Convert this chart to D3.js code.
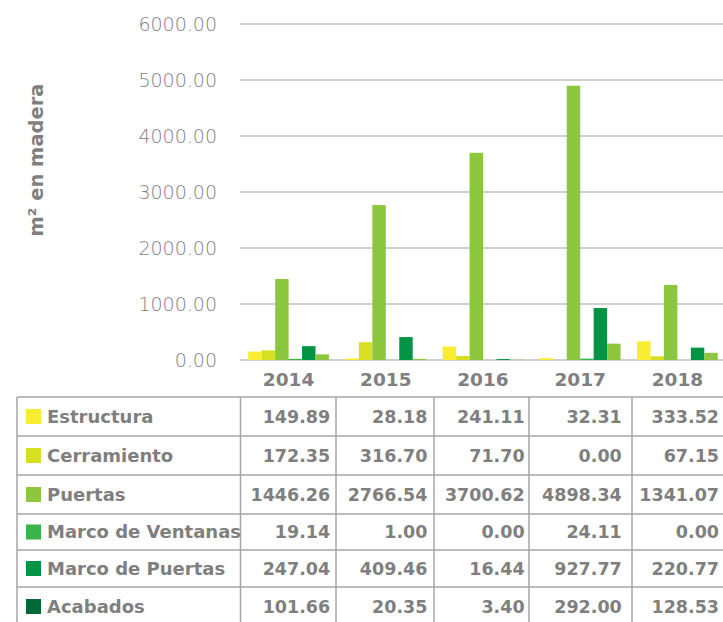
<!DOCTYPE html>
<html>
<head>
<meta charset="utf-8">
<script src="https://cdn.jsdelivr.net/npm/d3@7"></script>
<style>
	body { margin: 0; background: #FFFFFF; }
	#vis_container { width: 723px; height: 622px; }
	text { font-family: "DejaVu Sans", sans-serif; fill: #7F7F7F; }
</style>
</head>
<body>
<div id="vis_container"></div>
<script>
// data
var years = ["2014", "2015", "2016", "2017", "2018"];
var seriesNames = ["Estructura", "Cerramiento", "Puertas", "Marco de Ventanas", "Marco de Puertas", "Acabados"];
var estructura = [149.89, 28.18, 241.11, 32.31, 333.52];
var cerramiento = [172.35, 316.70, 71.70, 0.00, 67.15];
var puertas = [1446.26, 2766.54, 3700.62, 4898.34, 1341.07];
var marcoVentanas = [19.14, 1.00, 0.00, 24.11, 0.00];
var marcoPuertas = [247.04, 409.46, 16.44, 927.77, 220.77];
var acabados = [101.66, 20.35, 3.40, 292.00, 128.53];
var yTicks = [0, 1000, 2000, 3000, 4000, 5000, 6000];

// legend keys in the table and the bar fills (the last series is painted light green in the original)
var legendColors = ["#F9ED32", "#D7DF23", "#8DC63F", "#39B54A", "#009444", "#006838"];
var barColors = ["#F9ED32", "#D7DF23", "#8DC63F", "#39B54A", "#009444", "#8DC63F"];

var chart = {};
chart.width = 723;
chart.height = 622;
chart.values = [estructura, cerramiento, puertas, marcoVentanas, marcoPuertas, acabados];

chart.svg = d3.select("#vis_container").append("svg")
	.attr("width", chart.width)
	.attr("height", chart.height);

chart.xScale = d3.scaleBand()
	.domain(years)
	.range([240, 726])
	.paddingInner(0.17)
	.paddingOuter(0.085);

chart.inner = d3.scaleBand()
	.domain(d3.range(seriesNames.length))
	.range([0, chart.xScale.bandwidth()]);

chart.yScale = d3.scaleLinear()
	.domain([0, 6000])
	.range([360, 24]);

// gridlines
chart.svg.append("g").selectAll("line")
	.data(yTicks)
	.enter().append("line")
	.attr("x1", 240)
	.attr("x2", 723)
	.attr("y1", function(d) { return chart.yScale(d); })
	.attr("y2", function(d) { return chart.yScale(d); })
	.attr("stroke", "#BFBFBF")
	.attr("stroke-width", 1.6);

// y axis labels
chart.yAxis = chart.svg.append("g")
	.attr("transform", "translate(240,0)")
	.call(d3.axisLeft(chart.yScale).tickValues(yTicks).tickSize(0).tickPadding(23).tickFormat(d3.format(".2f")));
chart.yAxis.select(".domain").remove();
chart.yAxis.selectAll("text")
	.style("font-size", "19px")
	.style("font-family", "'DejaVu Sans', sans-serif")
	.style("font-weight", "200")
	.attr("fill", "#8C8C8C");

chart.svg.append("text")
	.attr("transform", "translate(43,160) rotate(-90)")
	.attr("text-anchor", "middle")
	.style("font-size", "19.5px")
	.style("font-weight", "bold")
	.text("m² en madera");

// bars
chart.values.forEach(function(vals, s) {
	chart.svg.append("g").selectAll("rect")
		.data(vals)
		.enter().append("rect")
		.attr("x", function(d, i) { return chart.xScale(years[i]) + chart.inner(s); })
		.attr("width", chart.inner.bandwidth())
		.attr("y", function(d) { return chart.yScale(d); })
		.attr("height", function(d) { return chart.yScale(0) - chart.yScale(d); })
		.attr("fill", barColors[s]);
});

// year labels
chart.svg.append("g").selectAll("text")
	.data(years)
	.enter().append("text")
	.attr("x", function(d) { return chart.xScale(d) + chart.xScale.bandwidth() / 2; })
	.attr("y", 386)
	.attr("text-anchor", "middle")
	.style("font-size", "18.5px")
	.style("font-weight", "bold")
	.text(function(d) { return d; });

// data table
chart.rowEdges = [397, 436, 475, 514, 550, 587, 626];
chart.colEdges = [17, 240.5, 336, 434, 529, 632];
chart.table = chart.svg.append("g");

chart.table.selectAll("line.h")
	.data(chart.rowEdges.slice(0, 6))
	.enter().append("line")
	.attr("x1", 17).attr("x2", 723)
	.attr("y1", function(d) { return d; })
	.attr("y2", function(d) { return d; })
	.attr("stroke", "#A6A6A6")
	.attr("stroke-width", 1.5);

chart.table.selectAll("line.v")
	.data(chart.colEdges)
	.enter().append("line")
	.attr("x1", function(d) { return d; })
	.attr("x2", function(d) { return d; })
	.attr("y1", 397).attr("y2", 626)
	.attr("stroke", "#A6A6A6")
	.attr("stroke-width", 1.5);

seriesNames.forEach(function(name, s) {
	var mid = (chart.rowEdges[s] + chart.rowEdges[s + 1]) / 2;
	chart.table.append("rect")
		.attr("x", 26)
		.attr("y", mid - 7.5)
		.attr("width", 15)
		.attr("height", 15)
		.attr("fill", legendColors[s]);
	chart.table.append("text")
		.attr("x", 47)
		.attr("y", mid)
		.attr("dy", "0.36em")
		.style("font-size", "18px")
		.style("font-weight", "bold")
		.text(name);
	chart.table.append("g").selectAll("text")
		.data(chart.values[s])
		.enter().append("text")
		.attr("x", function(d, i) { return chart.xScale(years[i]) + chart.xScale.bandwidth() + chart.xScale.step() * 0.085 - 7; })
		.attr("y", mid)
		.attr("dy", "0.36em")
		.attr("text-anchor", "end")
		.style("font-size", "17.5px")
		.style("font-weight", "bold")
		.text(function(d) { return d3.format(".2f")(d); });
});
</script>
</body>
</html>
